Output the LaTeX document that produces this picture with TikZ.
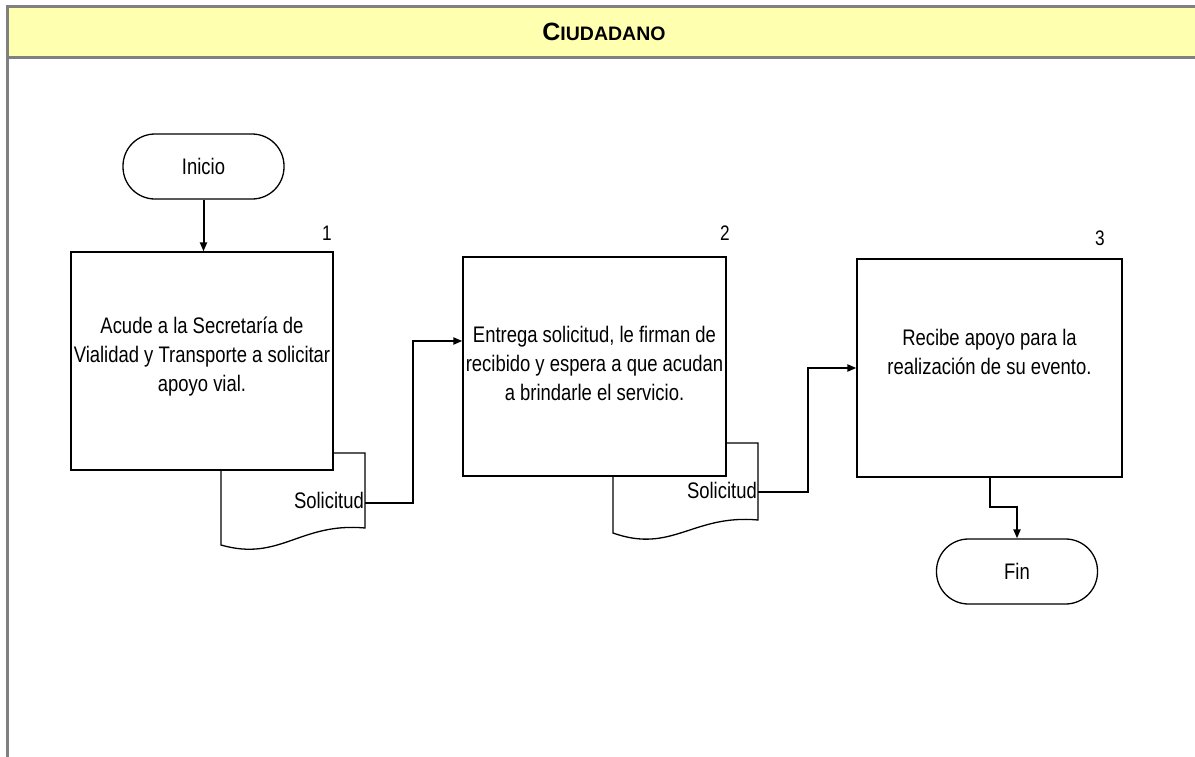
\documentclass[tikz,border=0pt]{standalone}
\usepackage{fontspec}
\setmainfont{Liberation Sans}
\newfontfamily\narrow[FakeStretch=0.82]{Liberation Sans}
\usetikzlibrary{arrows.meta}
\definecolor{hdrfill}{RGB}{255,255,176}
\definecolor{framegray}{RGB}{128,128,128}
\tikzset{
  frame/.style={draw=framegray, line width=2.2pt},
  stepbox/.style={draw, fill=white, line width=1.3pt, inner sep=0pt},
  steptext/.style={align=center, inner sep=0pt,
    font=\narrow\fontsize{22.5}{29}\selectfont},
  term/.style={draw, fill=white, line width=1.3pt, rounded corners=32pt, inner sep=0pt,
    minimum width=161pt, minimum height=65pt, font=\narrow\fontsize{22.5}{26}\selectfont},
  docshape/.style={draw, fill=white, line width=1.3pt},
  doctext/.style={inner sep=0pt, anchor=east, font=\narrow\fontsize{22.5}{26}\selectfont},
  numlabel/.style={inner sep=0pt, font=\narrow\fontsize{21}{24}\selectfont},
  conn/.style={line width=2pt, -{Triangle[length=9pt,width=7pt]}}
}
\begin{document}
\begin{tikzpicture}[x=1pt,y=-1pt]
\useasboundingbox (0,0) rectangle (1195,756);
% header
\fill[hdrfill] (7.5,6.5) rectangle (1196,57.5);
\draw[frame] (1196,6.5) -- (7.5,6.5) -- (7.5,758);
\draw[frame] (7.5,57.5) -- (1196,57.5);
\node[inner sep=0pt, font=\bfseries] (hdr) at (604,32)
  {\fontsize{25}{28}\selectfont C\fontsize{19.5}{24}\selectfont IUDADANO};

% documents (behind boxes)
\draw[docshape] (221,453) -- (365,453) -- (365,528)
  .. controls (300,522) and (280,562) .. (221,545) -- cycle;
\draw[docshape] (613,443) -- (758,443) -- (758,520)
  .. controls (693,514) and (672,554) .. (613,533) -- cycle;

% terminals
\node[term] (ini) at (203.5,166.5) {Inicio};
\node[term] (fin) at (1017,571.5) {Fin};

% process boxes
\node[stepbox, minimum width=262pt, minimum height=218pt] (b1) at (202,361) {};
\node[stepbox, minimum width=263pt, minimum height=219pt] (b2) at (594.5,366.5) {};
\node[stepbox, minimum width=265pt, minimum height=218pt] (b3) at (989.5,368) {};
\node[steptext] (t1) at ([yshift=4pt]b1.center)
  {Acude a la Secretaría de\\Vialidad y Transporte a solicitar\\apoyo vial.};
\node[steptext] (t2) at ([yshift=3.5pt]b2.center)
  {Entrega solicitud, le firman de\\recibido y espera a que acudan\\a brindarle el servicio.};
\node[steptext] (t3) at ([yshift=16pt]b3.center)
  {Recibe apoyo para la\\realización de su evento.};

% numbers
\node[numlabel] (n1) at (327,233) {1};
\node[numlabel] (n2) at (725,233) {2};
\node[numlabel] (n3) at (1100,238) {3};

% document texts
\node[doctext] (d1) at (364,500) {Solicitud};
\node[doctext] (d2) at (757,490) {Solicitud};
\coordinate (d1out) at (365,503);
\coordinate (d2out) at (758,492);

% connectors
\draw[conn] (ini.south) -- (ini.south |- b1.north);
\draw[conn] (d1out) -- (413,503) |- ([yshift=25.5pt]b2.west);
\draw[conn] (d2out) -- (808,492) |- (b3.west);
\draw[conn] (b3.south) -- ++(0,29) -| (fin.north);
\end{tikzpicture}
\end{document}
